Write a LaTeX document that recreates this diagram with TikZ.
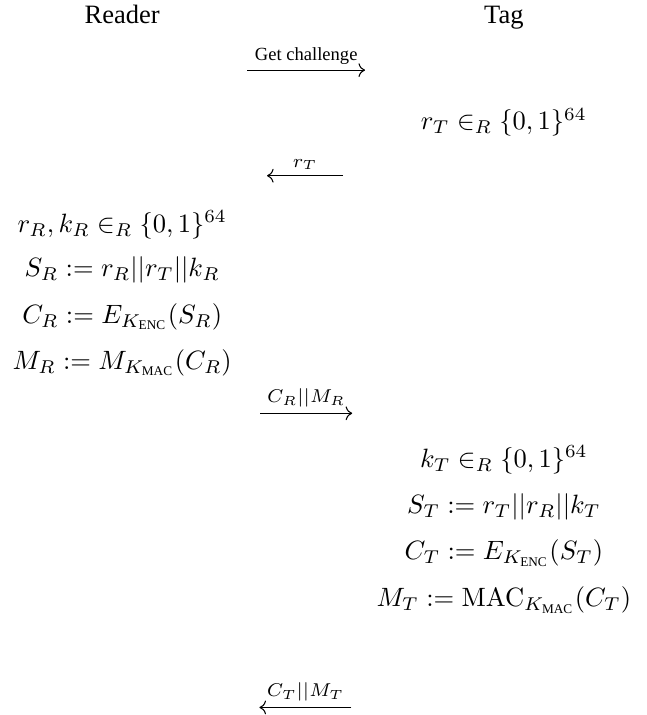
\documentclass[tikz,border=0pt]{standalone}
\usepackage{amsmath,amssymb}
\usepackage[no-math]{fontspec}
\setmainfont{Liberation Serif}
\usetikzlibrary{arrows.meta,positioning}

\begin{document}
\begin{tikzpicture}[>=To, 
  party/.style={anchor=base, inner sep=1pt},
  eq/.style={inner sep=1pt},
  msg/.style={font=\scriptsize, inner sep=2pt}]
  \useasboundingbox (0,0) rectangle (8.57,-9.48);
  % parties
  \node[party] (rd) at (1.62,-0.31) {Reader};
  \node[party] (tg) at (6.68,-0.31) {Tag};
  % get challenge
  \coordinate (a1) at (3.28,-0.93);
  \coordinate (a2) at (4.84,-0.93);
  \draw[->] (a1) -- node[msg,above] {Get challenge} (a2);
  % tag nonce
  \node[eq] (t0) at (6.68,-1.62) {$r_T \in_R \{0,1\}^{64}$};
  \coordinate (b1) at (4.55,-2.33);
  \coordinate (b2) at (3.54,-2.33);
  \draw[->] (b1) -- node[msg,above] {$r_T$} (b2);
  % Reader
  \node[eq] (r1) at (1.62,-2.98) {$r_R, k_R \in_R \{0,1\}^{64}$};
  \node[eq] (r2) at (1.62,-3.58) {$S_R := r_R || r_T || k_R$};
  \node[eq] (r3) at (1.62,-4.20) {$C_R := E_{K_{\text{ENC}}}(S_R)$};
  \node[eq] (r4) at (1.62,-4.81) {$M_R := M_{K_{\text{MAC}}}(C_R)$};
  \coordinate (c1) at (3.45,-5.48);
  \coordinate (c2) at (4.67,-5.48);
  \draw[->] (c1) -- node[msg,above] {$C_R || M_R$} (c2);
  % Tag
  \node[eq] (t1) at (6.68,-6.10) {$k_T \in_R \{0,1\}^{64}$};
  \node[eq] (t2) at (6.68,-6.72) {$S_T := r_T || r_R || k_T$};
  \node[eq] (t3) at (6.68,-7.33) {$C_T := E_{K_{\text{ENC}}}(S_T)$};
  \node[eq] (t4) at (6.68,-7.96) {$M_T := \mathrm{MAC}_{K_{\text{MAC}}}(C_T)$};
  \coordinate (d1) at (4.66,-9.38);
  \coordinate (d2) at (3.44,-9.38);
  \draw[->] (d1) -- node[msg,above] {$C_T || M_T$} (d2);
\end{tikzpicture}
\end{document}
